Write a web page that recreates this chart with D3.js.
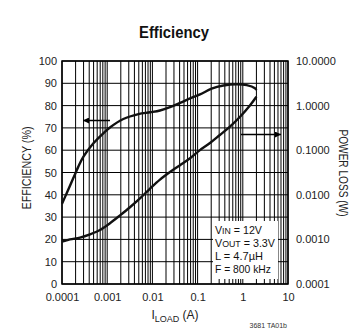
<!DOCTYPE html>
<html><head><meta charset="utf-8">
<script src="https://cdn.jsdelivr.net/npm/d3@7"></script>
<style>
html,body{margin:0;padding:0;background:#fff;}
svg{display:block;font-family:"Liberation Sans",Arial,Helvetica,sans-serif;}
</style></head>
<body>
<svg id="c" width="356" height="336"></svg>
<script>
// ---- data ----
const effLoad = [0.0001,0.000129,0.000178,0.000226,0.000296,0.00049,0.00082,0.00115,0.00227,0.0049,0.0089,0.0147,0.0245,0.041,0.068,0.113,0.204,0.37,0.73,1.22,1.86,2.0];
const effValues = [36,41,47.5,52.3,57,63,67.6,70.2,74,76.2,77,77.8,79.3,81.2,83.2,85,87.6,89,89.6,89.2,87.8,87];
const lossLoad = [0.0001,0.00015,0.00025,0.000417,0.00069,0.00115,0.00192,0.00319,0.0053,0.0089,0.0147,0.0245,0.041,0.068,0.113,0.188,0.31,0.52,0.87,1.45,2.0];
const lossValues = [0.00089,0.001,0.0011,0.0013,0.00162,0.0023,0.00345,0.00525,0.0083,0.0138,0.0219,0.0324,0.0462,0.066,0.1005,0.1445,0.219,0.339,0.562,1.02,1.58];
const xTicks = [0.0001,0.001,0.01,0.1,1,10];
const xTickLabels = ["0.0001","0.001","0.01","0.1","1","10"];
const effTicks = [0,10,20,30,40,50,60,70,80,90,100];
const lossTicks = [0.0001,0.001,0.01,0.1,1,10];
const lossTickLabels = ["0.0001","0.0010","0.0100","0.1000","1.0000","10.0000"];
const conditions = [["V","IN"," = 12V"],["V","OUT"," = 3.3V"],["L = 4.7","","µH"],["F = 800 kHz","",""]];
const conditionWidths = [47,60,48,56];

// ---- layout ----
const L = 62, R = 288, T = 61, B = 284;
const svg = d3.select("#c");
const x = d3.scaleLog().domain([0.0001,10]).range([L,R]);
const yE = d3.scaleLinear().domain([0,100]).range([B,T]);
const yP = d3.scaleLog().domain([0.0001,10]).range([B,T]);

// minor vertical grid values
const vgrid = [];
for (let e=-4;e<=0;e++) for (let m=1;m<=9;m++) vgrid.push(m*Math.pow(10,e));
vgrid.push(10);

const g = svg.append("g");
g.selectAll("line.v").data(vgrid).join("line")
  .attr("x1",d=>x(d)).attr("x2",d=>x(d)).attr("y1",T).attr("y2",B)
  .attr("stroke","#000").attr("stroke-width",1);
g.selectAll("line.h").data(effTicks).join("line")
  .attr("x1",L).attr("x2",R).attr("y1",d=>yE(d)).attr("y2",d=>yE(d))
  .attr("stroke","#000").attr("stroke-width",1);
g.append("rect").attr("x",L).attr("y",T).attr("width",R-L).attr("height",B-T)
  .attr("fill","none").attr("stroke","#000").attr("stroke-width",1.5);

// condition box (white) covering grid
const box = svg.append("g");
box.append("rect").attr("x",213).attr("y",221).attr("width",65).attr("height",58).attr("fill","#fff");
const ct = box.selectAll("text").data(conditions).join("text")
  .attr("x",215).attr("y",(d,i)=>233.5+i*13.2)
  .attr("font-size",11).attr("fill","#111")
  .attr("textLength",(d,i)=>conditionWidths[i]).attr("lengthAdjust","spacingAndGlyphs");
ct.each(function(d){
  const t = d3.select(this);
  t.append("tspan").text(d[0]);
  if (d[1]) t.append("tspan").attr("font-size",9).text(d[1]);
  if (d[2]) t.append("tspan").text(d[2]);
});

// curves
const lineE = d3.line().x((d,i)=>x(effLoad[i])).y(d=>yE(d)).curve(d3.curveCatmullRom.alpha(0.5));
const lineP = d3.line().x((d,i)=>x(lossLoad[i])).y(d=>yP(d)).curve(d3.curveCatmullRom.alpha(0.5));
svg.append("path").attr("d",lineE(effValues)).attr("fill","none").attr("stroke","#111").attr("stroke-width",2.4).attr("stroke-linejoin","round");
svg.append("path").attr("d",lineP(lossValues)).attr("fill","none").attr("stroke","#111").attr("stroke-width",2.4).attr("stroke-linejoin","round");

// arrows
svg.append("defs").append("marker").attr("id","ah").attr("viewBox","0 0 10 10")
  .attr("refX",10).attr("refY",5).attr("markerWidth",8).attr("markerHeight",6)
  .attr("markerUnits","userSpaceOnUse").attr("orient","auto")
  .append("path").attr("d","M0,0L10,5L0,10Z").attr("fill","#000");
svg.append("line").attr("x1",110).attr("x2",83).attr("y1",120.5).attr("y2",120.5)
  .attr("stroke","#000").attr("stroke-width",1.5).attr("marker-end","url(#ah)");
svg.append("line").attr("x1",241).attr("x2",281).attr("y1",134.5).attr("y2",134.5)
  .attr("stroke","#000").attr("stroke-width",1.5).attr("marker-end","url(#ah)");

// axes
const fs = 11;
const ax = svg.append("g").attr("transform",`translate(0,${B})`)
  .call(d3.axisBottom(x).tickValues(xTicks).tickFormat((d,i)=>xTickLabels[i]).tickSize(0).tickPadding(9));
const ay = svg.append("g").attr("transform",`translate(${L},0)`)
  .call(d3.axisLeft(yE).tickValues(effTicks).tickFormat(d3.format("d")).tickSize(0).tickPadding(5));
const ar = svg.append("g").attr("transform",`translate(${R},0)`)
  .call(d3.axisRight(yP).tickValues(lossTicks).tickFormat((d,i)=>lossTickLabels[i]).tickSize(0).tickPadding(8));
[ax,ay,ar].forEach(a=>{
  a.select(".domain").remove();
  a.selectAll("text").attr("font-size",fs).attr("fill","#222").attr("font-family","Liberation Sans, Arial, sans-serif");
});

// titles
svg.append("text").attr("x",174).attr("y",38).attr("text-anchor","middle")
  .attr("font-size",17).attr("font-weight","bold").attr("fill","#111")
  .attr("textLength",70).attr("lengthAdjust","spacingAndGlyphs").text("Efficiency");
svg.append("text").attr("transform","translate(31,168) rotate(-90)").attr("text-anchor","middle")
  .attr("font-size",12).attr("fill","#222")
  .attr("textLength",83).attr("lengthAdjust","spacingAndGlyphs").text("EFFICIENCY (%)");
svg.append("text").attr("transform","translate(339,173) rotate(90)").attr("text-anchor","middle")
  .attr("font-size",12).attr("fill","#222")
  .attr("textLength",87).attr("lengthAdjust","spacingAndGlyphs").text("POWER LOSS (W)");
const xt = svg.append("text").attr("x",175).attr("y",319).attr("text-anchor","middle")
  .attr("font-size",12).attr("fill","#222");
xt.append("tspan").text("I");
xt.append("tspan").attr("font-size",9).attr("dy",3).text("LOAD");
xt.append("tspan").attr("dy",-3).text(" (A)");
svg.append("text").attr("x",287).attr("y",328).attr("text-anchor","end")
  .attr("font-size",7).attr("fill","#333").text("3681 TA01b");
</script>
</body></html>
